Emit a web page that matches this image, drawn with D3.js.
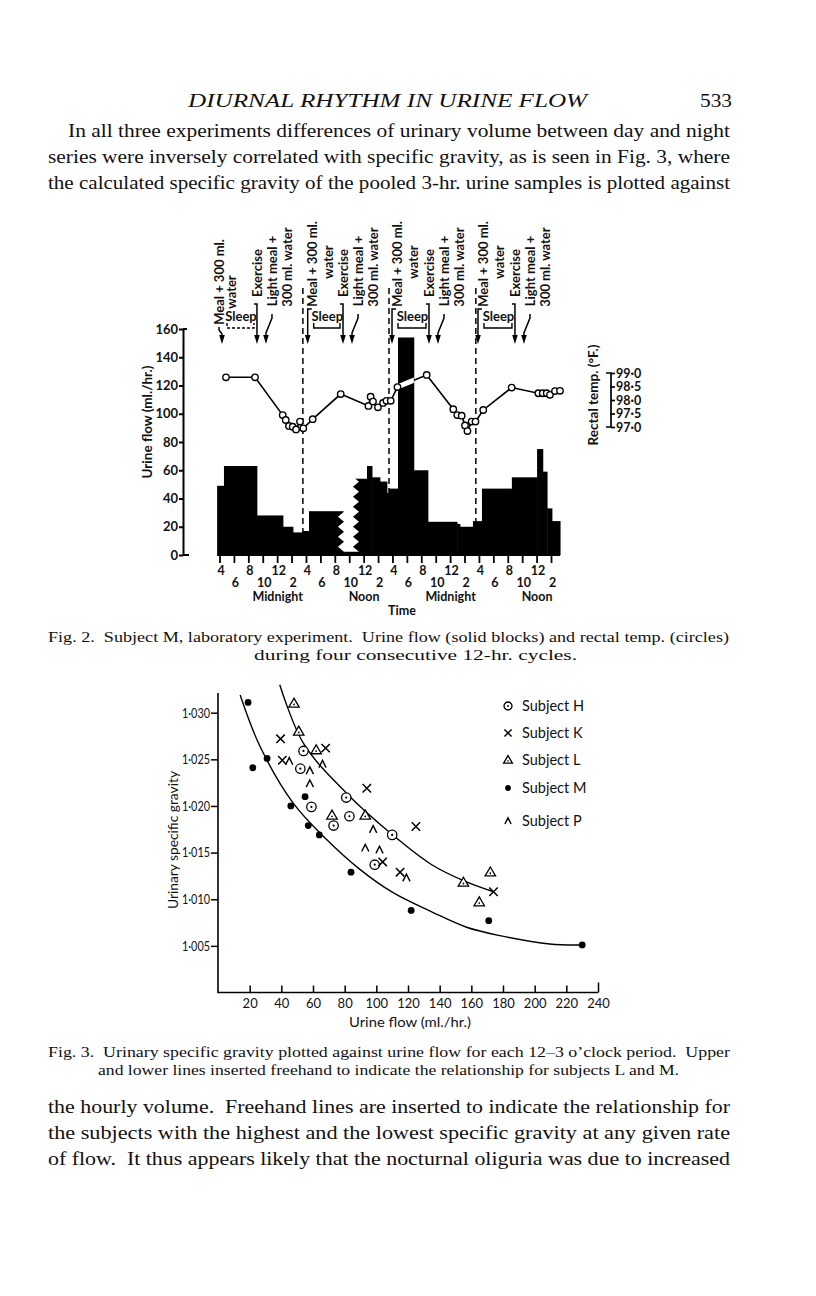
<!DOCTYPE html>
<html><head><meta charset="utf-8">
<script src="https://cdn.jsdelivr.net/npm/d3@7/dist/d3.min.js"></script>
<style>
body{margin:0;background:#fff;}
svg{display:block}
.serif{font-family:"Liberation Serif","DejaVu Serif",serif;fill:#111}
.f2{font-family:Lato,"Open Sans",sans-serif;font-weight:700;fill:#111}
.f3{font-family:Lato,"Open Sans",sans-serif;fill:#111}
</style></head><body>
<svg id="page" width="816" height="1296"></svg>
<script>
// ---------------- DATA ----------------
// Fig. 2 : urine flow blocks (hours after 4 p.m. of day 1)
const barStart = [-0.4, 0.55, 5.13, 8.74, 10.13, 11.52, 12.35, 17.4, 20.4, 21.1, 22.2, 23.17, 23.45, 24.7, 26.9, 28.86, 32.9, 33.3, 35.1, 36.35, 40.5, 44.0, 44.8, 45.4, 46.07];
const barEnd   = [0.55, 5.13, 8.74, 10.13, 11.52, 12.35, 17.4, 20.4, 21.1, 22.2, 23.17, 23.45, 24.7, 26.9, 28.86, 32.9, 33.3, 35.1, 36.35, 40.5, 44.0, 44.8, 45.4, 46.07, 47.2];
const barFlow  = [49, 63, 28, 20, 16, 17, 31, 54, 63, 55, 52, 44, 47, 154, 60, 23.5, 22, 20, 24, 47, 55, 75, 59, 33, 24];
const breakHours = [16.37, 18.45];
// Fig. 2 : rectal temperature (deg F)
const tempHour  = [0.83, 4.86, 8.70, 9.12, 9.57, 10.09, 10.55, 11.10, 11.56, 12.86, 16.75, 20.6, 20.9, 21.23, 21.92, 22.62, 23.1, 23.69, 24.63, 28.68, 32.37, 32.93, 33.54, 34.0, 34.34, 34.92, 35.45, 36.53, 40.47, 44.17, 44.78, 45.33, 45.79, 46.48, 47.18];
const tempValue = [98.84, 98.84, 97.44, 97.26, 97.04, 97.01, 96.91, 97.20, 96.95, 97.29, 98.22, 97.78, 98.12, 97.94, 97.73, 97.89, 97.97, 97.97, 98.48, 98.93, 97.66, 97.44, 97.42, 97.06, 96.85, 97.20, 97.20, 97.63, 98.46, 98.25, 98.25, 98.25, 98.19, 98.33, 98.34];
const flowTicks = [0, 20, 40, 60, 80, 100, 120, 140, 160];
const tempTicks = [97.0, 97.5, 98.0, 98.5, 99.0];
const timeLabels = ["4","6","8","10","12","2","4","6","8","10","12","2","4","6","8","10","12","2","4","6","8","10","12","2"];
const dayLabels = ["Midnight", "Noon", "Midnight", "Noon"];
const dayLabelHours = [8, 20, 32, 44];
const dashHours = [11.5, 23.45, 35.5];
const mealHours = [0.14, 12.17, 23.87, 35.8];
const exerciseHours = [5.13, 17.07, 29.0, 40.93];
const lightMealHours = [6.38, 18.32, 30.25, 42.18];
const mealText = ["Meal + 300 ml.", "water"];
const lightText = ["Light meal +", "300 ml. water"];
const exerciseText = "Exercise";
const sleepText = "Sleep";

// Fig. 3 : specific gravity vs urine flow
const subjects = ["H", "K", "L", "M", "P"];
const flowH = [54, 52, 59, 73, 81, 83, 110, 99];
const sgH   = [1.0259, 1.0240, 1.0199, 1.0179, 1.0209, 1.0189, 1.0169, 1.0137];
const flowK = [39.5, 40.6, 68, 94, 104, 115, 125, 174];
const sgK   = [1.0272, 1.0249, 1.0262, 1.0219, 1.0140, 1.0129, 1.0178, 1.0108];
const flowL = [48, 51, 62, 72, 93, 155, 172, 165];
const sgL   = [1.0310, 1.0280, 1.0260, 1.0190, 1.0190, 1.0118, 1.0129, 1.0097];
const flowM = [19, 22, 31, 46, 55, 57, 64, 84, 122, 171, 230];
const sgM   = [1.0311, 1.0241, 1.0251, 1.0200, 1.0210, 1.0179, 1.0169, 1.0129, 1.0088, 1.0077, 1.0051];
const flowP = [45, 66, 58, 58, 98, 93, 102, 119];
const sgP   = [1.0248, 1.0245, 1.0238, 1.0224, 1.0175, 1.0155, 1.0153, 1.0123];
const upperFlow = [39, 54, 81, 111, 135, 155, 174];
const upperSG   = [1.0330, 1.0267, 1.0214, 1.0168, 1.0137, 1.0120, 1.0108];
const lowerFlow = [14, 26.5, 47.5, 68.6, 89.6, 110.6, 135.6, 157, 178, 209.5, 230.5];
const lowerSG   = [1.0319, 1.0264, 1.0203, 1.0164, 1.0132, 1.0107, 1.0086, 1.0070, 1.0061, 1.0052, 1.0051];
const sgTicks = [1.005, 1.010, 1.015, 1.020, 1.025, 1.030];
const flow3Ticks = [20, 40, 60, 80, 100, 120, 140, 160, 180, 200, 220, 240];

// Page text
const headerTitle = "DIURNAL RHYTHM IN URINE FLOW";
const pageNumber = "533";
const paraTop = [
  "In all three experiments differences of urinary volume between day and night",
  "series were inversely correlated with specific gravity, as is seen in Fig. 3, where",
  "the calculated specific gravity of the pooled 3-hr. urine samples is plotted against"];
const caption2 = [
  "Fig. 2.  Subject M, laboratory experiment.  Urine flow (solid blocks) and rectal temp. (circles)",
  "during four consecutive 12-hr. cycles."];
const caption3 = [
  "Fig. 3.  Urinary specific gravity plotted against urine flow for each 12\u20133 o\u2019clock period.  Upper",
  "and lower lines inserted freehand to indicate the relationship for subjects L and M."];
const paraBottom = [
  "the hourly volume.  Freehand lines are inserted to indicate the relationship for",
  "the subjects with the highest and the lowest specific gravity at any given rate",
  "of flow.  It thus appears likely that the nocturnal oliguria was due to increased"];

// ---------------- PAGE TEXT ----------------
const svg = d3.select("#page");
svg.append("rect").attr("width", 816).attr("height", 1296).attr("fill", "#fff");
function tline(str, x, y, len, size, italic) {
  const t = svg.append("text").attr("class", "serif").attr("x", x).attr("y", y)
    .attr("font-size", size).style("white-space", "pre").text(str);
  if (len) t.attr("textLength", len).attr("lengthAdjust", "spacingAndGlyphs");
  if (italic) t.attr("font-style", "italic");
  return t;
}
tline(headerTitle, 188, 107, 399, 19, true);
tline(pageNumber, 700, 107, 32, 19);
tline(paraTop[0], 68, 137, 662, 19.5);
tline(paraTop[1], 48, 163, 682, 19.5);
tline(paraTop[2], 48, 189, 682, 19.5);
tline(caption2[0], 48, 642, 681, 14.5);
tline(caption2[1], 254, 660, 323, 14.5);
tline(caption3[0], 48, 1057, 682, 14.5);
tline(caption3[1], 98, 1075, 581, 14.5);
tline(paraBottom[0], 48, 1113, 682, 19.5);
tline(paraBottom[1], 48, 1139, 682, 19.5);
tline(paraBottom[2], 48, 1165, 682, 19.5);

// ---------------- FIG 2 ----------------
const g2 = svg.append("g");
const xs = d3.scaleLinear().domain([0, 46]).range([220, 551.5]);
const yF = d3.scaleLinear().domain([0, 160]).range([555, 329]);
const yT = d3.scaleLinear().domain([97, 99]).range([427, 373]);

// bars
const bars = barStart.map((s, i) => ({ s, e: barEnd[i], v: barFlow[i] }));
g2.append("g").selectAll("rect").data(bars).join("rect")
  .attr("x", d => xs(d.s)).attr("width", d => xs(d.e) - xs(d.s) + 0.4)
  .attr("y", d => yF(d.v)).attr("height", d => yF(0) - yF(d.v)).attr("fill", "#000");
g2.append("line").attr("x1", xs(barStart[0])).attr("x2", xs(barEnd[barEnd.length - 1]))
  .attr("y1", yF(0)).attr("y2", yF(0)).attr("stroke", "#000").attr("stroke-width", 2);

// zigzag break (white)
(function () {
  const xL = xs(breakHours[0]), xR = xs(breakHours[1]);
  const yTop = yF(d3.max(barFlow.slice(6, 8))) - 2, yBot = yF(0) - 2;
  let k = 0;
  const left = [], right = [];
  for (let y = yTop; y <= yBot + 0.1; y += 5, k++) {
    const z = (k % 2) ? 6 : 0;
    left.push([xL + z, y]); right.push([xR + z, y]);
  }
  const poly = left.concat(right.reverse());
  g2.append("path").attr("d", "M" + poly.map(p => p.join(",")).join("L") + "Z").attr("fill", "#fff");
})();

// dashed verticals
g2.selectAll("line.dash").data(dashHours).join("line")
  .attr("x1", d => xs(d)).attr("x2", d => xs(d)).attr("y1", 288).attr("y2", yF(0) - 2)
  .attr("stroke", "#000").attr("stroke-width", 1.5).attr("stroke-dasharray", "6,4");

// temperature line
const temps = tempHour.map((h, i) => ({ h, t: tempValue[i] }));
const tLine = d3.line().x(d => xs(d.h)).y(d => yT(d.t));
g2.append("path").attr("d", tLine(temps)).attr("fill", "none").attr("stroke", "#000").attr("stroke-width", 1.6);
const clip = g2.append("clipPath").attr("id", "barclip");
clip.selectAll("rect").data(bars).join("rect")
  .attr("x", d => xs(d.s)).attr("width", d => xs(d.e) - xs(d.s))
  .attr("y", d => yF(d.v)).attr("height", d => yF(0) - yF(d.v));
g2.append("path").attr("d", tLine(temps)).attr("fill", "none").attr("stroke", "#fff")
  .attr("stroke-width", 5).attr("clip-path", "url(#barclip)");
g2.selectAll("circle.t").data(temps).join("circle")
  .attr("cx", d => xs(d.h)).attr("cy", d => yT(d.t)).attr("r", 3.2)
  .attr("fill", "#fff").attr("stroke", "#000").attr("stroke-width", 1.4);

// left axis
const axL = g2.append("g").attr("transform", "translate(183,0)")
  .call(d3.axisLeft(yF).tickValues(flowTicks).tickSize(4).tickSizeOuter(0).tickPadding(1));
axL.select(".domain").attr("stroke-width", 2);
axL.selectAll(".tick line").attr("stroke-width", 2);
axL.selectAll("text").attr("font-size", 13).attr("font-family", "Lato").attr("font-weight", 700).attr("fill", "#111");
g2.append("path").attr("d", `M183,${yF(160)}H187M183,${yF(0)}H189`).attr("stroke", "#000").attr("stroke-width", 2);
g2.append("text").attr("class", "f2").attr("font-size", 13.5)
  .attr("transform", "translate(152,422) rotate(-90)").attr("text-anchor", "middle").text("Urine flow (ml./hr.)");

// right axis (rectal temp)
const axR = g2.append("g").attr("transform", "translate(611,0)")
  .call(d3.axisRight(yT).tickValues(tempTicks).tickSize(4).tickSizeOuter(0).tickPadding(1)
    .tickFormat(d => d.toFixed(1).replace(".", "\u00b7")));
axR.select(".domain").remove();
axR.selectAll(".tick line").attr("stroke-width", 1.7);
axR.selectAll("text").attr("font-size", 12.5).attr("font-family", "Lato").attr("font-weight", 700).attr("fill", "#111");
g2.append("path").attr("d", `M606,${yT(99)}H611V${yT(97)}H606`).attr("fill", "none").attr("stroke", "#000").attr("stroke-width", 1.7);
g2.append("text").attr("class", "f2").attr("font-size", 13.5)
  .attr("transform", "translate(598,395) rotate(-90)").attr("text-anchor", "middle").text("Rectal temp. (\u00b0F.)");

// time axis
const tickHours = timeLabels.map((d, i) => i * 2);
g2.selectAll("line.tt").data(tickHours).join("line")
  .attr("x1", d => xs(d)).attr("x2", d => xs(d)).attr("y1", yF(0)).attr("y2", yF(0) + 8)
  .attr("stroke", "#000").attr("stroke-width", 1.8);
g2.selectAll("text.tl").data(timeLabels).join("text").attr("class", "f2")
  .attr("font-size", 12.5).attr("text-anchor", "middle")
  .attr("x", (d, i) => xs(i * 2) + 1).attr("y", (d, i) => i % 2 ? 586.5 : 575).text(d => d);
g2.selectAll("text.dl").data(dayLabels).join("text").attr("class", "f2")
  .attr("font-size", 12.5).attr("text-anchor", "middle")
  .attr("x", (d, i) => xs(dayLabelHours[i])).attr("y", 601).text(d => d);
g2.append("text").attr("class", "f2").attr("font-size", 12.5).attr("text-anchor", "middle")
  .attr("x", 402).attr("y", 615).text("Time");

// annotations
function vtext(x, yc, str) {
  g2.append("text").attr("class", "f2").attr("font-size", 13).attr("text-anchor", "middle")
    .attr("dy", "0.35em").attr("transform", `translate(${x},${yc}) rotate(-90)`).text(str);
}
function arrowHead(x) {
  g2.append("path").attr("d", `M${x - 2.8},335L${x + 2.8},335L${x},344Z`).attr("fill", "#000");
}
mealHours.forEach((mh, i) => {
  const xm = xs(mh), xe = xs(exerciseHours[i]), xl = xs(lightMealHours[i]);
  const stroke = p => g2.append("path").attr("d", p).attr("fill", "none").attr("stroke", "#000").attr("stroke-width", 1.5);
  if (i === 0) {
    vtext(xm - 2, 282, mealText[0]); vtext(xm + 10, 292, mealText[1]);
    stroke(`M${xm - 2},327V330L${xm + 1},334V339`);
  } else {
    vtext(xm + 5, 264, mealText[0]); vtext(xm + 21, 262, mealText[1]);
    stroke(`M${xm + 4},309H${xm}V339`);
  }
  arrowHead(i === 0 ? xm + 1 : xm);
  // sleep
  const sx = (xm + xe) / 2 + 2;
  g2.append("text").attr("class", "f2").attr("font-size", 13).attr("text-anchor", "middle")
    .attr("x", sx).attr("y", 321).text(sleepText);
  g2.append("path").attr("d", `M${xm + 6},323V328H${xe - 3}V323`).attr("fill", "none")
    .attr("stroke", "#000").attr("stroke-width", 1.4).attr("stroke-dasharray", i === 0 ? "3,2" : null);
  // exercise
  vtext(xe, 273, exerciseText);
  stroke(`M${xe - 3},304H${xe}V339`);
  arrowHead(xe);
  // light meal
  vtext(xl + 6, 271, lightText[0]); vtext(xl + 21, 267, lightText[1]);
  stroke(`M${xl + 6},314V318L${xl},333V339`);
  arrowHead(xl);
});

// ---------------- FIG 3 ----------------
const g3 = svg.append("g");
const x3 = d3.scaleLinear().domain([0, 240]).range([218, 598]);
const y3 = d3.scaleLinear().domain([1.000, 1.030]).range([992.5, 712.7]);

g3.append("path").attr("d", `M${x3(0)},693V${y3(1.0)}H${x3(240)}`).attr("fill", "none").attr("stroke", "#000").attr("stroke-width", 1.6);
const ay = g3.append("g").attr("transform", `translate(${x3(0)},0)`)
  .call(d3.axisLeft(y3).tickValues(sgTicks).tickSize(7).tickPadding(1).tickSizeOuter(0)
    .tickFormat(d => d.toFixed(3).replace(".", "\u00b7")));
ay.select(".domain").remove();
ay.selectAll(".tick line").attr("stroke-width", 1.5);
ay.selectAll("text").attr("font-family", "Lato").attr("font-size", 13.5).attr("fill", "#111")
  .attr("textLength", 28).attr("lengthAdjust", "spacingAndGlyphs");
const ax = g3.append("g").attr("transform", `translate(0,${y3(1.0)})`)
  .call(d3.axisBottom(x3).tickValues(flow3Ticks).tickSize(-7).tickPadding(6).tickSizeOuter(0));
ax.select(".domain").remove();
ax.selectAll(".tick line").attr("stroke-width", 1.5).attr("y2", d => d === 240 ? -10 : -7);
ax.selectAll("text").attr("font-family", "Lato").attr("font-size", 13).attr("fill", "#111");
g3.append("text").attr("class", "f3").attr("font-size", 14).attr("text-anchor", "middle")
  .attr("x", 410).attr("y", 1027).attr("textLength", 122).attr("lengthAdjust", "spacingAndGlyphs")
  .text("Urine flow (ml./hr.)");
g3.append("text").attr("class", "f3").attr("font-size", 14).attr("text-anchor", "middle")
  .attr("transform", "translate(178,840) rotate(-90)").attr("textLength", 138).attr("lengthAdjust", "spacingAndGlyphs")
  .text("Urinary specific gravity");

// freehand curves
const cLine = d3.line().x(d => x3(d[0])).y(d => y3(d[1])).curve(d3.curveCatmullRom.alpha(0.5));
g3.append("path").attr("d", cLine(upperFlow.map((f, i) => [f, upperSG[i]]))).attr("fill", "none").attr("stroke", "#000").attr("stroke-width", 1.4);
g3.append("path").attr("d", cLine(lowerFlow.map((f, i) => [f, lowerSG[i]]))).attr("fill", "none").attr("stroke", "#000").attr("stroke-width", 1.4);

function marker(type, x, y, s) {
  const m = g3.append("g").attr("transform", `translate(${x},${y})`);
  if (type === "H") {
    m.append("circle").attr("r", 4.7 * s).attr("fill", "#fff").attr("stroke", "#000").attr("stroke-width", 1.3);
    m.append("circle").attr("r", 1.1 * s).attr("fill", "#000");
  } else if (type === "K") {
    const a = 4.2 * s;
    m.append("path").attr("d", `M${-a},${-a}L${a},${a}M${-a},${a}L${a},${-a}`).attr("stroke", "#000").attr("stroke-width", 1.5);
  } else if (type === "L") {
    const a = 5.2 * s;
    m.append("path").attr("d", `M0,${-a}L${a},${a * 0.72}L${-a},${a * 0.72}Z`).attr("fill", "#fff").attr("stroke", "#000").attr("stroke-width", 1.3);
    m.append("circle").attr("cy", a * 0.2).attr("r", 0.9 * s).attr("fill", "#000");
  } else if (type === "M") {
    m.append("circle").attr("r", 3.4 * s).attr("fill", "#000");
  } else if (type === "P") {
    const a = 3.6 * s;
    m.append("path").attr("d", `M${-a},${a}L0,${-a}L${a},${a}`).attr("fill", "none").attr("stroke", "#000").attr("stroke-width", 1.4);
  }
}
const series = { H: [flowH, sgH], K: [flowK, sgK], L: [flowL, sgL], M: [flowM, sgM], P: [flowP, sgP] };
subjects.forEach(s => {
  const [fl, sg] = series[s];
  fl.forEach((f, i) => marker(s, x3(f), y3(sg[i]), 1));
});
// legend
const legendY = [706, 733, 760, 788, 821];
subjects.forEach((s, i) => {
  marker(s, 508, legendY[i], 0.85);
  g3.append("text").attr("class", "f3").attr("font-size", 14.5).attr("x", 522).attr("y", legendY[i] + 5).text("Subject " + s);
});
</script></body></html>
